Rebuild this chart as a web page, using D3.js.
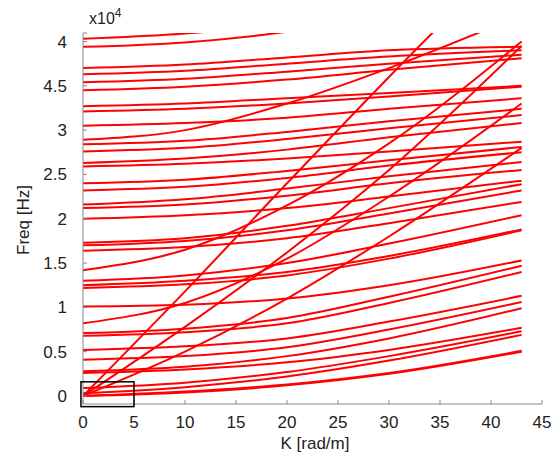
<!DOCTYPE html>
<html>
<head>
<meta charset="utf-8">
<style>
html, body { margin: 0; padding: 0; background: #fff; }
text { font-family: "Liberation Sans", Arial, sans-serif; fill: #222; }
</style>
<script src="https://cdn.jsdelivr.net/npm/d3@7"></script>
</head>
<body>
<script>
var kSamples = [0, 10, 20, 30, 43];

// frequency of each branch at kSamples, in units of 1e4 Hz
var branches = [
  [0.00, 0.04, 0.12, 0.25, 0.50],
  [0.00, 0.05, 0.13, 0.26, 0.51],
  [0.03, 0.10, 0.22, 0.40, 0.69],
  [0.09, 0.15, 0.27, 0.45, 0.73],
  [0.26, 0.30, 0.38, 0.52, 0.77],
  [0.28, 0.33, 0.45, 0.65, 0.99],
  [0.41, 0.45, 0.55, 0.75, 1.06],
  [0.52, 0.56, 0.65, 0.84, 1.13],
  [0.68, 0.72, 0.82, 1.05, 1.40],
  [0.71, 0.76, 0.88, 1.12, 1.47],
  [1.01, 1.03, 1.10, 1.25, 1.53],
  [1.22, 1.26, 1.36, 1.55, 1.87],
  [1.25, 1.30, 1.40, 1.58, 1.88],
  [1.30, 1.36, 1.50, 1.72, 2.04],
  [1.64, 1.68, 1.78, 1.95, 2.19],
  [1.70, 1.75, 1.87, 2.06, 2.32],
  [1.73, 1.78, 1.92, 2.12, 2.39],
  [2.00, 2.04, 2.12, 2.25, 2.43],
  [2.12, 2.16, 2.26, 2.40, 2.55],
  [2.16, 2.22, 2.34, 2.48, 2.64],
  [2.32, 2.36, 2.46, 2.60, 2.75],
  [2.40, 2.44, 2.54, 2.66, 2.81],
  [2.59, 2.62, 2.68, 2.76, 2.87],
  [2.63, 2.68, 2.78, 2.92, 3.08],
  [2.76, 2.80, 2.90, 3.02, 3.17],
  [2.84, 2.88, 2.98, 3.10, 3.24],
  [3.05, 3.08, 3.14, 3.24, 3.36],
  [3.21, 3.24, 3.30, 3.38, 3.49],
  [3.27, 3.30, 3.36, 3.42, 3.50],
  [3.45, 3.49, 3.57, 3.68, 3.81],
  [3.54, 3.58, 3.66, 3.75, 3.85],
  [3.63, 3.67, 3.75, 3.83, 3.90],
  [3.70, 3.74, 3.82, 3.90, 3.94],
  [3.94, 3.99, 4.11, 4.30, 4.60],
  [4.03, 4.09, 4.20, 4.40, 4.80],
  [0.82, 1.05, 1.55, 2.25, 3.30],
  [1.42, 1.65, 2.15, 2.85, 4.00],
  [0.00, 1.18, 2.40, 3.60, 5.10],
  [0.00, 0.78, 1.62, 2.55, 3.95],
  [0.00, 0.50, 1.10, 1.80, 2.80],
  [2.89, 3.00, 3.30, 3.70, 4.30]
];

var xTicks = [0, 5, 10, 15, 20, 25, 30, 35, 40, 45];
var yTickValues = [0, 0.5, 1, 1.5, 2, 2.5, 3, 3.5, 4];
var yTickLabels = ["0", "0.5", "1", "1.5", "2", "2.5", "3", "4.5", "4"];

// zoom box drawn over the origin, in data units
var boxK = [-0.2, 5];
var boxF = [-0.12, 0.16];

var w = 552, h = 456;
var x = d3.scaleLinear().domain([0, 45]).range([83, 542]);
var y = d3.scaleLinear().domain([0, 4]).range([396, 41.5]);
var yBottom = 404, yTop = 33;

var svg = d3.select("body").append("svg")
  .attr("width", w)
  .attr("height", h);

svg.append("clipPath").attr("id", "plotclip")
  .append("rect")
  .attr("x", x(0)).attr("y", yTop)
  .attr("width", x(45) - x(0)).attr("height", yBottom - yTop);

var line = d3.line()
  .x(function(d) { return x(d[0]); })
  .y(function(d) { return y(d[1]); })
  .curve(d3.curveMonotoneX);

svg.append("g")
  .attr("clip-path", "url(#plotclip)")
  .selectAll("path")
  .data(branches)
  .enter().append("path")
  .attr("d", function(b) { return line(b.map(function(f, i) { return [kSamples[i], f]; })); })
  .style("fill", "none")
  .style("stroke", "#f00")
  .style("stroke-width", 2);

// axes
var axisColor = "#888";
svg.append("line")
  .attr("x1", x(0)).attr("x2", x(45))
  .attr("y1", yBottom).attr("y2", yBottom)
  .style("stroke", axisColor);
svg.append("line")
  .attr("x1", x(0)).attr("x2", x(0))
  .attr("y1", yBottom).attr("y2", yTop)
  .style("stroke", axisColor);
svg.append("line")
  .attr("x1", x(0)).attr("x2", x(0) + 4)
  .attr("y1", yTop).attr("y2", yTop)
  .style("stroke", axisColor);

svg.selectAll(".xtick").data(xTicks).enter().append("line")
  .attr("x1", function(d) { return x(d); }).attr("x2", function(d) { return x(d); })
  .attr("y1", yBottom).attr("y2", yBottom - 4)
  .style("stroke", axisColor);
svg.selectAll(".xlab").data(xTicks).enter().append("text")
  .attr("x", function(d) { return x(d); })
  .attr("y", 428)
  .attr("text-anchor", "middle")
  .style("font-size", "17px")
  .text(function(d) { return d; });

svg.selectAll(".ytick").data(yTickValues).enter().append("line")
  .attr("x1", x(0)).attr("x2", x(0) + 4)
  .attr("y1", function(d) { return y(d); }).attr("y2", function(d) { return y(d); })
  .style("stroke", axisColor);
svg.selectAll(".ylab").data(yTickValues).enter().append("text")
  .attr("x", 67)
  .attr("y", function(d) { return y(d) + 6; })
  .attr("text-anchor", "end")
  .style("font-size", "17px")
  .text(function(d, i) { return yTickLabels[i]; });

var expo = svg.append("text").attr("x", 89).attr("y", 24).style("font-size", "16px");
expo.append("tspan").text("x10");
expo.append("tspan").attr("dy", -7).style("font-size", "12px").text("4");

svg.append("text")
  .attr("x", 315).attr("y", 449)
  .attr("text-anchor", "middle")
  .style("font-size", "17px")
  .text("K [rad/m]");

svg.append("text")
  .attr("transform", "translate(29,220) rotate(-90)")
  .attr("text-anchor", "middle")
  .style("font-size", "17px")
  .text("Freq [Hz]");

svg.append("rect")
  .attr("x", x(boxK[0])).attr("y", y(boxF[1]))
  .attr("width", x(boxK[1]) - x(boxK[0]))
  .attr("height", y(boxF[0]) - y(boxF[1]))
  .style("fill", "none")
  .style("stroke", "#000")
  .style("stroke-width", 1.5);
</script>
</body>
</html>
